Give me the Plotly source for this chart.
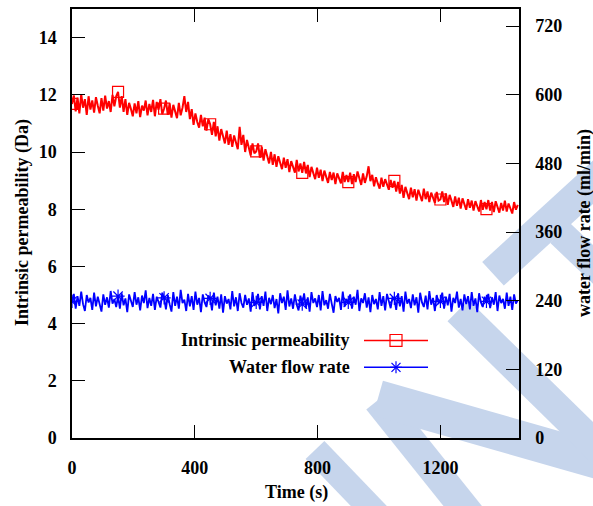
import plotly.graph_objects as go

# ---------------- data ----------------
time_step_s = 6
permeability_da = [
    11.68, 11.98, 11.42, 11.90, 11.35, 12.02, 11.55, 11.85, 11.30, 11.95, 11.48, 11.80, 11.38, 11.92, 11.62, 11.35, 11.88, 11.45, 11.97, 11.52, 11.78, 11.40, 12.00, 11.60, 11.95,
    12.10, 11.55, 11.95, 11.40, 11.85, 11.30, 11.72, 11.50, 11.25, 11.70, 11.35, 11.78, 11.22, 11.62, 11.45, 11.80, 11.28, 11.68, 11.40, 11.82, 11.25, 11.75, 11.48, 11.85, 11.32,
    11.52, 11.80, 11.30, 11.70, 11.20, 11.65, 11.42, 11.18, 11.72, 11.28, 11.55, 11.95, 11.40, 11.75, 11.15, 11.50, 10.95, 11.35, 11.05, 10.85, 11.30, 10.90, 11.20, 10.75, 11.15,
    10.97, 10.60, 11.05, 10.55, 10.90, 10.40, 10.80, 10.55, 10.30, 10.75, 10.25, 10.62, 10.18, 10.58, 10.35, 10.10, 10.88, 10.25, 10.60, 10.00, 10.42, 10.15, 9.88, 10.30, 9.95,
    10.02, 10.30, 9.80, 10.18, 9.70, 10.10, 9.85, 9.60, 10.00, 9.55, 9.92, 9.48, 9.85, 9.62, 9.40, 9.80, 9.45, 9.75, 9.30, 9.68, 9.50, 9.28, 9.72, 9.32, 9.60,
    9.27, 9.65, 9.25, 9.55, 9.12, 9.48, 9.30, 9.05, 9.45, 9.10, 9.38, 8.98, 9.35, 9.15, 8.92, 9.30, 9.02, 9.28, 8.88, 9.25, 9.05, 8.90, 9.30, 8.95, 9.20,
    8.95, 9.28, 8.88, 9.22, 8.95, 9.32, 9.05, 8.85, 9.25, 8.92, 9.15, 9.50, 8.98, 9.20, 8.80, 9.12, 8.90, 8.72, 9.10, 8.78, 9.05, 8.85, 8.68, 9.02, 8.75,
    8.99, 8.62, 8.95, 8.55, 8.85, 8.40, 8.78, 8.58, 8.35, 8.75, 8.42, 8.70, 8.30, 8.68, 8.50, 8.28, 8.72, 8.35, 8.62, 8.25, 8.58, 8.40, 8.22, 8.60, 8.30,
    8.34, 8.62, 8.25, 8.55, 8.15, 8.50, 8.30, 8.08, 8.45, 8.12, 8.40, 8.02, 8.38, 8.20, 7.98, 8.35, 8.05, 8.30, 7.95, 8.28, 8.10, 7.92, 8.32, 7.98, 8.25,
    8.00, 8.32, 7.95, 8.25, 7.90, 8.28, 8.05, 7.88, 8.22, 7.95, 8.30, 7.92, 8.20, 8.02, 7.85, 8.25, 7.98, 8.15,
]
flow_rate_ml_min = [
    239, 252, 226, 248, 231, 256, 234, 222, 250, 237, 245, 224, 254, 230, 247, 236, 221, 251, 233, 246, 228, 257, 235, 243, 229,
    248, 226, 253, 232, 244, 220, 251, 238, 229, 255, 233, 246, 223, 249, 236, 258, 227, 245, 231, 252, 224, 247, 239, 228, 254,
    245, 225, 250, 234, 221, 255, 231, 247, 226, 259, 236, 242, 222, 252, 230, 248, 224, 256, 233, 245, 220, 251, 237, 229, 249,
    244, 223, 254, 232, 247, 226, 251, 219, 248, 235, 243, 225, 257, 230, 246, 222, 253, 236, 228, 250, 233, 244, 221, 255, 231,
    237, 252, 225, 248, 231, 256, 222, 245, 234, 250, 227, 243, 218, 253, 236, 247, 224, 258, 230, 244, 226, 251, 233, 223, 249,
    234, 253, 227, 246, 221, 255, 236, 244, 229, 250, 223, 257, 232, 241, 226, 252, 235, 219, 248, 238, 245, 224, 256, 230, 243,
    237, 251, 226, 247, 233, 259, 222, 244, 236, 253, 228, 246, 220, 250, 234, 243, 225, 255, 231, 248, 223, 252, 238, 227, 246,
    244, 224, 253, 230, 248, 221, 256, 235, 243, 227, 251, 232, 246, 219, 254, 237, 229, 249, 225, 257, 233, 245, 222, 250, 236,
    239, 254, 226, 247, 232, 252, 221, 245, 236, 256, 228, 243, 223, 251, 234, 248, 225, 255, 231, 244, 220, 253, 237, 229, 247,
    239, 252, 227, 246, 233, 255, 222, 249, 236, 243, 226, 254, 231, 247, 224, 251, 235, 241,
]
time_s = [i * time_step_s for i in range(len(permeability_da))]
marker_every = 25

x_ticks = [0, 400, 800, 1200]
y_ticks = [0, 2, 4, 6, 8, 10, 12, 14]
y2_ticks = [0, 120, 240, 360, 480, 600, 720]
series_names = ["Intrinsic permeability", "Water flow rate"]

# ---------------- layout geometry (pixels) ----------------
W, H = 593, 506
L, R, T, B = 72, 519, 7, 438


def px(x, y):
    return (x - L) / (R - L), (B - y) / (B - T)


RED, BLUE = "#ff0000", "#0000ff"
FONT = "Times New Roman, Liberation Serif, serif"

fig = go.Figure()
fig.add_trace(go.Scatter(x=time_s, y=permeability_da, mode="lines",
                         line=dict(color=RED, width=2), showlegend=False))
fig.add_trace(go.Scatter(x=time_s[::marker_every], y=permeability_da[::marker_every], mode="markers",
                         marker=dict(symbol="square-open", size=11, color=RED, line=dict(width=1.2)),
                         showlegend=False))
fig.add_trace(go.Scatter(x=time_s, y=flow_rate_ml_min, mode="lines", yaxis="y2",
                         line=dict(color=BLUE, width=1.8), showlegend=False))
fig.add_trace(go.Scatter(x=time_s[::marker_every], y=flow_rate_ml_min[::marker_every], mode="markers", yaxis="y2",
                         marker=dict(symbol="asterisk-open", size=11, color=BLUE, line=dict(width=1.2, color=BLUE)),
                         showlegend=False))

shapes = []
# watermark strokes (background decoration)
WM = "#c6d5ec"
for (x0, y0), (x1, y1), w in [
    ((315, 450), (380, 518), 26),
    ((378, 400), (472, 518), 30),
    ((378, 398), (605, 463), 36),
    ((458, 310), (605, 455), 30),
    ((493, 273), (605, 170), 32),
    ((560, 232), (605, 275), 28),
]:
    a, b = px(x0, y0)
    c, d = px(x1, y1)
    shapes.append(dict(type="line", xref="paper", yref="paper", x0=a, y0=b, x1=c, y1=d,
                       line=dict(color=WM, width=w), layer="below"))

# manual legend (text on the left, sample on the right)
annotations = []
lfont = dict(size=18, family=FONT, color="black", weight="bold")
for name, color, yy, sym in [(series_names[0], RED, 340, "square"), (series_names[1], BLUE, 367, "star")]:
    a, b = px(364, yy)
    c, _ = px(428, yy)
    shapes.append(dict(type="line", xref="paper", yref="paper", x0=a, y0=b, x1=c, y1=b,
                       line=dict(color=color, width=1.5)))
    tx, ty = px(352, yy)
    annotations.append(dict(text=name, x=tx, y=ty, xref="paper", yref="paper", xanchor="right",
                            yanchor="middle", showarrow=False, font=lfont))
    if sym == "square":
        s0x, s0y = px(390, yy - 6)
        s1x, s1y = px(402, yy + 6)
        shapes.append(dict(type="rect", xref="paper", yref="paper", x0=s0x, y0=s0y, x1=s1x, y1=s1y,
                           line=dict(color=color, width=1.2), fillcolor="rgba(0,0,0,0)"))
    else:
        for dx, dy in [(6, 0), (0, 6), (4.5, 4.5), (4.5, -4.5)]:
            p0 = px(396 - dx, yy - dy)
            p1 = px(396 + dx, yy + dy)
            shapes.append(dict(type="line", xref="paper", yref="paper", x0=p0[0], y0=p0[1], x1=p1[0], y1=p1[1],
                               line=dict(color=color, width=1.2)))

# axis titles
tfont = dict(size=18, family=FONT, color="black", weight="bold")
annotations.append(dict(text="Intrinsic permeability (Da)", x=px(22, 0)[0], y=px(0, 222)[1], xref="paper", yref="paper",
                        textangle=-90, showarrow=False, font=tfont, xanchor="center", yanchor="middle"))
annotations.append(dict(text="water flow rate (ml/min)", x=px(584, 0)[0], y=px(0, 222)[1], xref="paper", yref="paper",
                        textangle=-90, showarrow=False, font=tfont, xanchor="center", yanchor="middle"))
annotations.append(dict(text="Time (s)", x=px(296, 0)[0], y=px(0, 493)[1], xref="paper", yref="paper",
                        showarrow=False, font=tfont, xanchor="center", yanchor="middle"))

tickfont = dict(size=18, family=FONT, color="black", weight="bold")
axis_common = dict(showgrid=False, zeroline=False, showline=True, linecolor="black", linewidth=1.5,
                   ticks="inside", ticklen=13, tickwidth=1.2, tickcolor="black", tickfont=tickfont)

fig.update_layout(
    width=W, height=H,
    margin=dict(l=L, r=W - R, t=T, b=H - B, pad=0),
    paper_bgcolor="white", plot_bgcolor="rgba(0,0,0,0)",
    font=dict(family=FONT, color="black"),
    showlegend=False,
    xaxis=dict(range=[0, 1456], tickvals=x_ticks, mirror="ticks", ticklabelstandoff=13, **axis_common),
    yaxis=dict(range=[0, 15], tickvals=y_ticks, ticklabelstandoff=10, **axis_common),
    yaxis2=dict(range=[0, 750], tickvals=y2_ticks, overlaying="y", side="right", ticklabelstandoff=11, **axis_common),
    shapes=shapes,
    annotations=annotations,
)

fig.write_html("out.html", config={"displayModeBar": False},
               post_script="document.body.style.margin='0';document.body.style.padding='0';")
